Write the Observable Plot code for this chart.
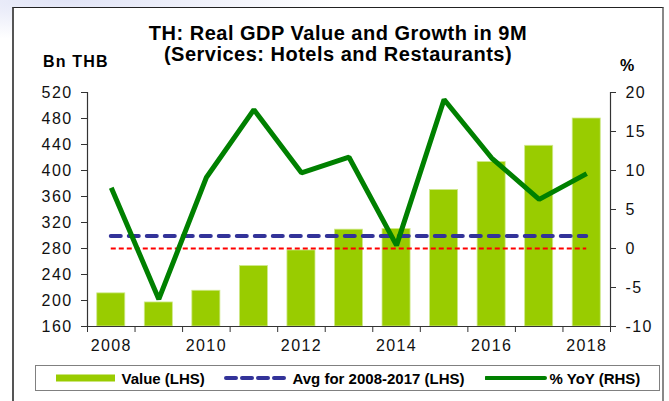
<!DOCTYPE html>
<html>
<head>
<meta charset="utf-8">
<script src="https://cdn.jsdelivr.net/npm/d3@7"></script>
<script src="https://cdn.jsdelivr.net/npm/@observablehq/plot@0.6"></script>
<style>
  html, body { margin: 0; padding: 0; background: #fff; }
  body { width: 669px; height: 401px; position: relative; overflow: hidden; font-family: "Liberation Sans", Arial, sans-serif; color: #000; }
  #shadow { position: absolute; left: 0; top: 0; width: 340px; height: 40px;
    background: radial-gradient(ellipse at 20% 0%, rgba(205,210,240,0.6), rgba(255,255,255,0) 70%); }
  #frame { position: absolute; left: 12px; top: 7px; width: 648px; height: 420px; background: #fff;
    border-left: 2px solid #555; border-top: 1px solid #222; border-right: 2px solid #888; }
  #chart { position: absolute; left: 0; top: 0; }
  #chart svg text { letter-spacing: 1.4px; }
  .t { position: absolute; font-weight: bold; white-space: nowrap; }
  #title { left: 0; width: 676px; top: 23px; text-align: center; font-size: 20px; line-height: 21px; letter-spacing: 0.5px; }
  #lhs { left: 43px; top: 54px; font-size: 16px; line-height: 16px; letter-spacing: 1.2px; }
  #rhs { left: 620px; top: 58px; font-size: 16px; line-height: 16px; }
  #legend { position: absolute; left: 35px; top: 365px; width: 623px; height: 24px; border: 1.5px solid #808080; background: #fff; }
  .lt { position: absolute; top: 4px; font-size: 15px; line-height: 17px; font-weight: bold; white-space: nowrap; }
  .sw { position: absolute; top: 0; }
</style>
</head>
<body>
<div id="shadow"></div>
<div id="frame"></div>
<div id="chart"></div>
<div class="t" id="title">TH: Real GDP Value and Growth in 9M<br>(Services: Hotels and Restaurants)</div>
<div class="t" id="lhs">Bn THB</div>
<div class="t" id="rhs">%</div>
<div id="legend"></div>
<script>
// ---- data ----
const years = [2008, 2009, 2010, 2011, 2012, 2013, 2014, 2015, 2016, 2017, 2018];
const values = [211, 197, 215, 253, 277, 309, 310, 370, 413, 438, 480];   // Bn THB (LHS)
const yoy = [7.8, -6.5, 9.1, 17.8, 9.7, 11.7, 0.4, 19.1, 11.6, 6.3, 9.6]; // % YoY (RHS)
const avgFrom = 2008, avgTo = 2017;
const leftTicks = [160, 200, 240, 280, 320, 360, 400, 440, 480, 520];
const rightTicks = [-10, -5, 0, 5, 10, 15, 20];
const xLabelYears = [2008, 2010, 2012, 2014, 2016, 2018];
const legendLabels = ["Value (LHS)", "Avg for 2008-2017 (LHS)", "% YoY (RHS)"];

// ---- derived ----
const rows = years.map((year, i) => ({year, value: values[i], yoy: yoy[i]}));
const avg = d3.mean(rows.filter(d => d.year >= avgFrom && d.year <= avgTo), d => d.value);
const leftDomain = [leftTicks[0], leftTicks[leftTicks.length - 1]];
const rightDomain = [rightTicks[0], rightTicks[rightTicks.length - 1]];
const k = (leftDomain[1] - leftDomain[0]) / (rightDomain[1] - rightDomain[0]);
const toLeft = p => leftDomain[0] + (p - rightDomain[0]) * k;
const fromLeft = v => Math.round(rightDomain[0] + (v - leftDomain[0]) / k);
const xDomain = [years[0] - 0.5, years[years.length - 1] + 0.5];
const bounds = d3.range(xDomain[0], xDomain[1] + 0.01, 1);
const half = 0.295;

const colors = {bar: "#99cc00", avg: "#333399", zero: "#ff0000", yoy: "#008000", axis: "#333"};

const chart = Plot.plot({
  width: 669,
  height: 360,
  marginLeft: 87,
  marginRight: 59,
  marginTop: 92,
  marginBottom: 34,
  x: {type: "linear", domain: xDomain, axis: null},
  y: {domain: leftDomain, axis: null},
  style: {fontFamily: "'Liberation Sans', Arial, sans-serif", fontSize: "16px", color: "#111", background: "transparent", overflow: "visible"},
  marks: [
    Plot.rectY(rows, {x1: d => d.year - half, x2: d => d.year + half, y1: leftDomain[0], y2: "value", fill: colors.bar, stroke: "#cfe98a", strokeWidth: 0.8}),
    Plot.ruleY([toLeft(0)], {x1: years[0], x2: years[years.length - 1], stroke: colors.zero, strokeWidth: 2, strokeDasharray: "5,3"}),
    Plot.ruleY([avg], {x1: years[0], x2: years[years.length - 1], stroke: colors.avg, strokeWidth: 4, strokeDasharray: "10,8", strokeLinecap: "round"}),
    Plot.line(rows, {x: "year", y: d => toLeft(d.yoy), stroke: colors.yoy, strokeWidth: 5, strokeLinejoin: "miter", strokeLinecap: "butt"}),
    // axis lines
    Plot.ruleX([xDomain[0]], {stroke: colors.axis, strokeWidth: 1.2}),
    Plot.ruleX([xDomain[1]], {stroke: colors.axis, strokeWidth: 1.2}),
    Plot.ruleY([leftDomain[0]], {stroke: colors.axis, strokeWidth: 1.2}),
    // left axis
    Plot.axisY({anchor: "left", ticks: leftTicks, tickSize: 6, tickPadding: 9, label: null, stroke: colors.axis}),
    // right axis
    Plot.axisY({anchor: "right", ticks: rightTicks.map(toLeft), tickFormat: fromLeft, tickSize: 5, tickPadding: 10, label: null, stroke: colors.axis}),
    // bottom axis: ticks at category boundaries, labels at even years
    Plot.axisX({ticks: bounds, tickFormat: () => "", tickSize: 6, label: null, stroke: colors.axis}),
    Plot.axisX({ticks: xLabelYears, tickFormat: d => String(d), tickSize: 0, tickPadding: 13, label: null})
  ]
});
document.getElementById("chart").appendChild(chart);

// ---- legend ----
const legend = document.getElementById("legend");
const ox = 36.5;
function addSwatch(left, width, svgInner) {
  const d = document.createElement("div");
  d.className = "sw";
  d.style.left = (left - ox) + "px";
  d.innerHTML = `<svg width="${width}" height="24">${svgInner}</svg>`;
  legend.appendChild(d);
}
function addText(left, txt) {
  const d = document.createElement("div");
  d.className = "lt";
  d.style.left = (left - ox) + "px";
  d.textContent = txt;
  legend.appendChild(d);
}
addSwatch(56, 60, `<rect x="0" y="8.5" width="59" height="7" fill="${colors.bar}"/>`);
addText(122, legendLabels[0]);
addSwatch(224, 66, `<line x1="2" x2="64" y1="12" y2="12" stroke="${colors.avg}" stroke-width="4" stroke-dasharray="10,6" stroke-linecap="round"/>`);
addText(293, legendLabels[1]);
addSwatch(485, 62, `<line x1="1" x2="60" y1="12" y2="12" stroke="${colors.yoy}" stroke-width="4" stroke-linecap="round"/>`);
addText(550, legendLabels[2]);
</script>
</body>
</html>
